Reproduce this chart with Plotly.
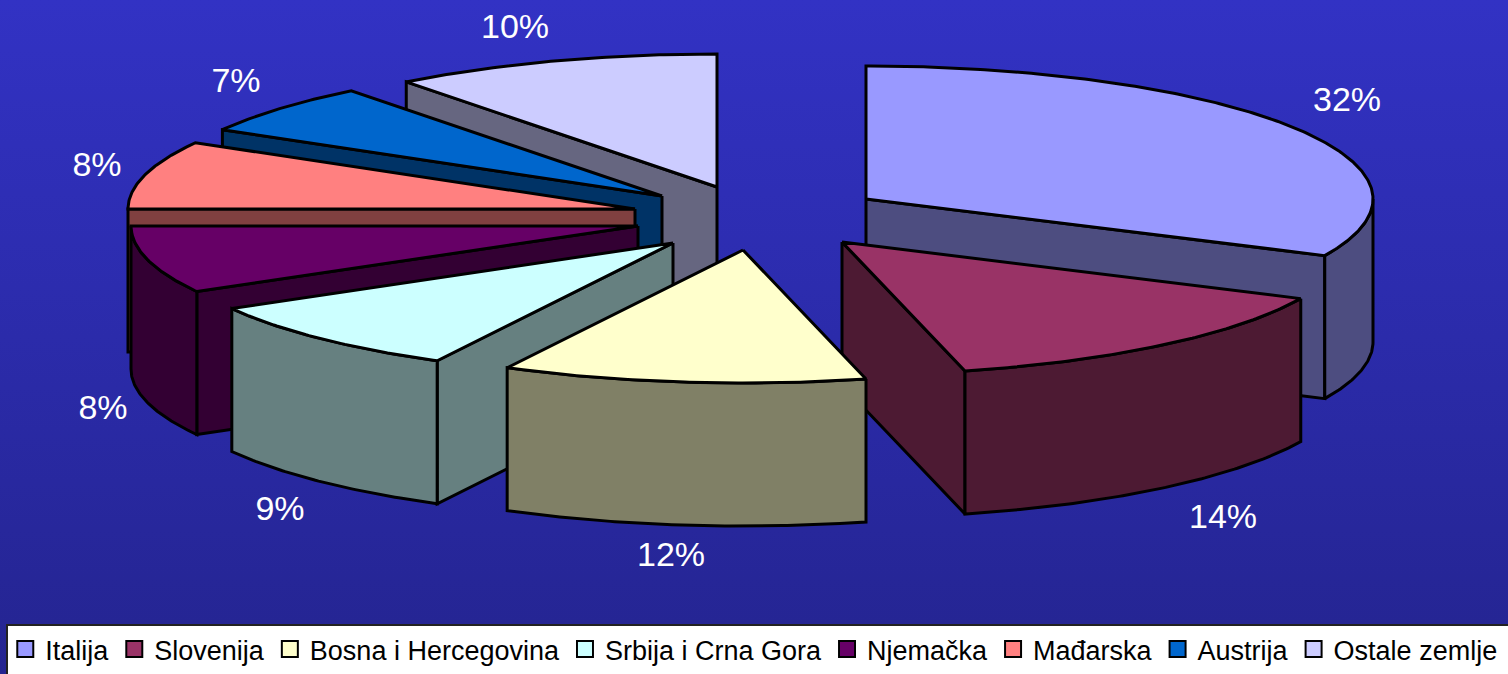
import math
import plotly.graph_objects as go

categories = ["Italija", "Slovenija", "Bosna i Hercegovina", "Srbija i Crna Gora",
              "Njemačka", "Mađarska", "Austrija", "Ostale zemlje"]
values = [32.0, 14.1, 11.6, 9.1, 8.2, 8.3, 6.2, 10.5]
labels = ["32%", "14%", "12%", "9%", "8%", "8%", "7%", "10%"]
face_colors = ["#9999FF", "#993366", "#FFFFCC", "#CCFFFF", "#660066", "#FF8080", "#0066CC", "#CCCCFF"]
wall_colors = ["#4D4D80", "#4D1A33", "#808066", "#668080", "#330033", "#804040", "#003366", "#666680"]

# exploded pie geometry, in page pixels
RX, RY, DEPTH = 507, 133, 143
apex = [(866, 199), (842, 242), (743, 250), (673, 243), (638, 226), (635, 209), (662, 196), (717, 187)]
label_xy = [(1347, 102), (1223, 519), (671, 557), (280, 511), (103, 410), (97, 167), (236, 83), (515, 29)]
draw_order = [7, 6, 5, 4, 0, 1, 3, 2]


def rim(i, a0, a1, dy=0):
    n = max(2, int(abs(a1 - a0) * 2))
    cx, cy = apex[i]
    pts = []
    for k in range(n + 1):
        t = math.radians(a0 + (a1 - a0) * k / n)
        pts.append((cx + RX * math.sin(t), cy - RY * math.cos(t) + dy))
    return pts


def poly(pts, color):
    xs = [p[0] for p in pts] + [pts[0][0]]
    ys = [p[1] for p in pts] + [pts[0][1]]
    return go.Scatter(x=xs, y=ys, mode="lines", fill="toself", fillcolor=color,
                      line=dict(color="black", width=3), showlegend=False, hoverinfo="skip")


fig = go.Figure()
fig.add_trace(go.Scatter(
    x=[0, 1508, 1508, 0, 0], y=[0, 0, 674, 674, 0], mode="lines", fill="toself",
    line=dict(width=0), showlegend=False, hoverinfo="skip",
    fillgradient=dict(type="vertical", start=0, stop=674,
                      colorscale=[[0, "#3232C4"], [1, "#242490"]])))

total = sum(values)
starts, ends = [], []
acc = 0
for v in values:
    starts.append(acc / total * 360)
    acc += v
    ends.append(acc / total * 360)

for i in draw_order:
    a0, a1 = starts[i], ends[i]
    cx, cy = apex[i]
    # radial wall facing the viewer
    if a1 <= 180:
        p = rim(i, a1, a1)[0]
        fig.add_trace(poly([(cx, cy), p, (p[0], p[1] + DEPTH), (cx, cy + DEPTH)], wall_colors[i]))
    elif a0 >= 180:
        p = rim(i, a0, a0)[0]
        fig.add_trace(poly([(cx, cy), p, (p[0], p[1] + DEPTH), (cx, cy + DEPTH)], wall_colors[i]))
    # outer rim facing the viewer
    w0, w1 = max(a0, 90), min(a1, 270)
    if w1 > w0:
        fig.add_trace(poly(rim(i, w0, w1) + rim(i, w1, w0, DEPTH), wall_colors[i]))
    # top face
    fig.add_trace(poly([(cx, cy)] + rim(i, a0, a1), face_colors[i]))

fig.add_trace(go.Scatter(
    x=[p[0] for p in label_xy], y=[p[1] for p in label_xy], text=labels, mode="text",
    textfont=dict(family="Liberation Sans", size=34, color="white"),
    showlegend=False, hoverinfo="skip"))

for i, name in enumerate(categories):
    fig.add_trace(go.Scatter(
        x=[None], y=[None], mode="markers", name=name,
        marker=dict(symbol="square", size=16, color=face_colors[i],
                    line=dict(color="black", width=2))))

fig.update_layout(
    width=1508, height=674, margin=dict(l=0, r=0, t=0, b=0),
    paper_bgcolor="#2A2AA8", plot_bgcolor="rgba(0,0,0,0)",
    xaxis=dict(range=[0, 1508], visible=False, fixedrange=True),
    yaxis=dict(range=[674, 0], visible=False, fixedrange=True),
    shapes=[dict(type="rect", xref="x", yref="y", x0=7, x1=1512, y0=625, y1=678,
                 fillcolor="white", line=dict(color="#222222", width=2), layer="above")],
    legend=dict(orientation="h", x=0.0035, xanchor="left", y=0.0, yanchor="bottom",
                bgcolor="rgba(0,0,0,0)", borderwidth=0, itemwidth=30, itemclick=False,
                font=dict(family="Liberation Sans", size=27, color="black"),
                traceorder="normal"),
)
fig.write_html("out.html", config={"displayModeBar": False},
               post_script="document.body.style.margin='0';document.body.style.overflow='hidden';")
